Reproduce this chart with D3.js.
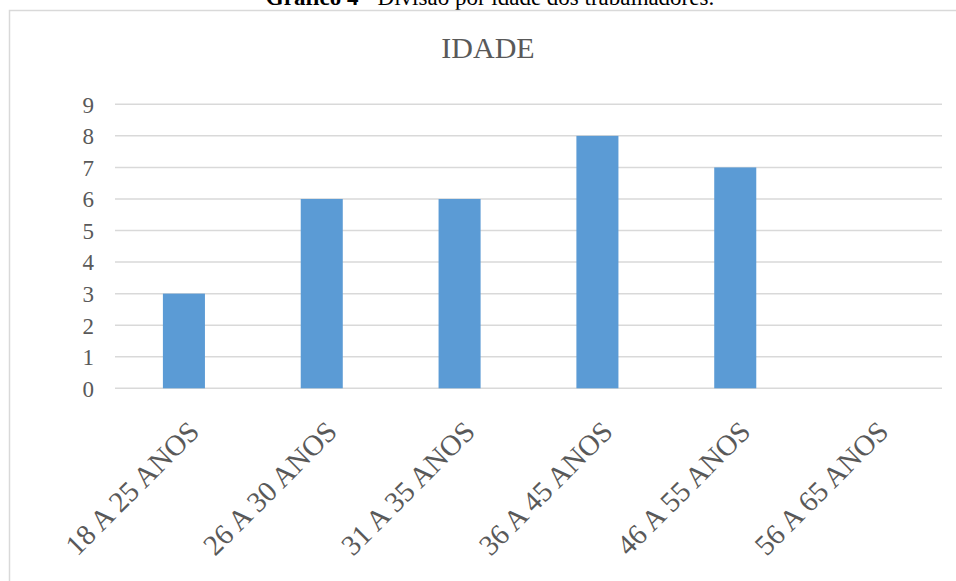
<!DOCTYPE html>
<html>
<head>
<meta charset="utf-8">
<script src="https://cdn.jsdelivr.net/npm/d3@7/dist/d3.min.js"></script>
<style>
  html, body { margin: 0; padding: 0; background: #ffffff; }
  svg { display: block; }
  svg text { font-family: "Liberation Serif", "Times New Roman", serif; }
</style>
</head>
<body>
<svg id="chart" width="956" height="581"></svg>
<script>
// Age groups of the workers and the number of workers in each
const categories = ["18 A 25 ANOS", "26 A 30 ANOS", "31 A 35 ANOS", "36 A 45 ANOS", "46 A 55 ANOS", "56 A 65 ANOS"];
const values = [3, 6, 6, 8, 7, 0];
const yTicks = [0, 1, 2, 3, 4, 5, 6, 7, 8, 9];
const chartTitle = "IDADE";

const svg = d3.select("#chart");
const serif = '"Liberation Serif", "Times New Roman", serif';
const textColor = "#595959";
const gridColor = "#d9d9d9";
const barColor = "#5b9bd5";

// Figure caption above the chart frame (partly cut by the page top)
const caption = svg.append("text")
  .attr("x", 490).attr("y", 5)
  .attr("text-anchor", "middle")
  .style("font-family", serif)
  .style("font-size", "23px")
  .attr("fill", "#000");
caption.append("tspan").attr("font-weight", "bold").text("Gráfico 4 - ");
caption.append("tspan").text("Divisão por idade dos trabalhadores.");

// Chart frame
svg.append("rect")
  .attr("x", 9.5).attr("y", 10.5)
  .attr("width", 980).attr("height", 620)
  .attr("fill", "#fff")
  .attr("stroke", gridColor)
  .attr("stroke-width", 1.5);

// Title
svg.append("text")
  .attr("x", 488).attr("y", 58)
  .attr("text-anchor", "middle")
  .style("font-family", serif)
  .style("font-size", "30px")
  .attr("fill", textColor)
  .text(chartTitle);

const plot = { left: 115, right: 942, top: 104.3, bottom: 388.3 };

const x = d3.scaleBand()
  .domain(categories)
  .range([plot.left, plot.right])
  .padding(0);

const y = d3.scaleLinear()
  .domain([0, 9])
  .range([plot.bottom, plot.top]);

// Horizontal gridlines
svg.append("g")
  .selectAll("line")
  .data(yTicks)
  .join("line")
  .attr("x1", plot.left).attr("x2", plot.right)
  .attr("y1", d => y(d)).attr("y2", d => y(d))
  .attr("stroke", gridColor)
  .attr("stroke-width", 1.5);

// Y axis labels
const yAxis = svg.append("g")
  .attr("transform", `translate(${plot.left - 21},0)`)
  .call(d3.axisLeft(y).tickValues(yTicks).tickSize(0).tickPadding(0).tickFormat(d3.format("d")));
yAxis.attr("font-family", null).attr("font-size", null);
yAxis.select(".domain").remove();
yAxis.selectAll("text")
  .style("font-family", serif)
  .style("font-size", "23px")
  .attr("fill", textColor)
  .attr("dy", "0.34em");

// Bars
const barWidth = x.bandwidth() * 0.305;
svg.append("g")
  .selectAll("rect")
  .data(categories.map((c, i) => ({ c, v: values[i] })))
  .join("rect")
  .attr("x", d => x(d.c) + x.bandwidth() / 2 - barWidth / 2)
  .attr("width", barWidth)
  .attr("y", d => y(d.v))
  .attr("height", d => y(0) - y(d.v))
  .attr("fill", barColor);

// Rotated category labels
const xAxis = svg.append("g")
  .attr("transform", `translate(0,${plot.bottom})`)
  .call(d3.axisBottom(x).tickSize(0).tickPadding(0));
xAxis.attr("font-family", null).attr("font-size", null);
xAxis.select(".domain").remove();
xAxis.selectAll("text")
  .style("font-family", serif)
  .style("font-size", "29px")
  .attr("fill", textColor)
  .attr("text-anchor", "end")
  .attr("dy", 0)
  .attr("y", 0)
  .attr("transform", "translate(17,45) rotate(-45)");
</script>
</body>
</html>
